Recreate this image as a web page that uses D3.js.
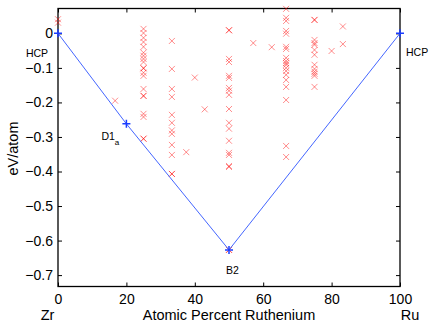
<!DOCTYPE html>
<html><head><meta charset="utf-8">
<script src="https://cdn.jsdelivr.net/npm/d3@7"></script>
<style>
html,body{margin:0;padding:0;background:#fff;}
text{font-family:"Liberation Sans",Arial,Helvetica,sans-serif;fill:#000;}
</style></head>
<body><svg id="chart" width="436" height="327"></svg>
<script>
// Structures: composition (atomic % Ru) and formation energy (eV/atom)
const structX = [
  0, 0,
  16.7,
  25,25,25,25,25,25,25,25,25,25,25,25,25,25,25,25,25,25,25,25,
  33.3,33.3,33.3,33.3,33.3,33.3,33.3,33.3,33.3,33.3,33.3,33.3,
  37.5, 40, 42.9,
  50,50,50,50,50,50,50,50,50,50,50,50,50,50,50,50,50,50,50,
  57.1, 62.5,
  66.7,66.7,66.7,66.7,66.7,66.7,66.7,66.7,66.7,66.7,66.7,66.7,66.7,66.7,66.7,66.7,66.7,66.7,66.7,
  75,75,75,75,75,75,75,75,75,75,75,75,75,
  80, 83.3, 83.3
];
const structE = [
  0.041, 0.031,
  -0.195,
  0.013,0.001,-0.013,-0.025,-0.039,-0.056,-0.065,-0.074,-0.083,-0.101,-0.101,-0.114,-0.123,-0.161,-0.181,-0.181,-0.233,-0.242,-0.305,-0.305,
  -0.022,-0.103,-0.161,-0.184,-0.236,-0.259,-0.281,-0.291,-0.323,-0.352,-0.407,-0.407,
  -0.344, -0.128, -0.220,
  0.009,0.009,-0.074,-0.083,-0.123,-0.129,-0.158,-0.166,-0.178,-0.219,-0.259,-0.276,-0.311,-0.346,-0.352,-0.384,-0.387,-0.627,-0.627,
  -0.028, -0.040,
  0.071,0.045,0.036,0.007,-0.001,-0.039,-0.045,-0.071,-0.080,-0.086,-0.091,-0.100,-0.109,-0.120,-0.135,-0.155,-0.193,-0.326,-0.358,
  0.039,0.039,-0.019,-0.028,-0.033,-0.048,-0.062,-0.091,-0.103,-0.111,-0.117,-0.123,-0.155,
  -0.051, 0.020, -0.031
];
// Convex hull (ground states)
const hullX = [0, 20, 50, 100];
const hullE = [0, -0.262, -0.627, 0];
const hullLabels = ["HCP", "D1", "B2", "HCP"];
const hullSub = ["", "a", "", ""];
// Ticks
const xTicks = [0, 20, 40, 60, 80, 100];
const yTicks = [0, -0.1, -0.2, -0.3, -0.4, -0.5, -0.6, -0.7];

const svg = d3.select("#chart");
const L = 58, R = 400, T = 8.5, B = 286.5;
const x = d3.scaleLinear().domain([0, 100]).range([L, R]);
const y = d3.scaleLinear().domain([0.072, -0.733]).range([T, B]);

// axes
const fmtY = d => d === 0 ? "0" : d3.format(".1f")(d);
const fmtX = d3.format("d");
const fs = "14px";
const ax = [
  [d3.axisBottom(x).tickValues(xTicks).tickSizeInner(-4).tickSizeOuter(0).tickPadding(8).tickFormat(fmtX), `translate(0,${B})`],
  [d3.axisTop(x).tickValues(xTicks).tickSizeInner(-4).tickSizeOuter(0).tickFormat(""), `translate(0,${T})`],
  [d3.axisLeft(y).tickValues(yTicks).tickSizeInner(-4).tickSizeOuter(0).tickPadding(5).tickFormat(fmtY), `translate(${L},0)`],
  [d3.axisRight(y).tickValues(yTicks).tickSizeInner(-4).tickSizeOuter(0).tickFormat(""), `translate(${R},0)`]
];
ax.forEach(([a, tr]) => {
  const g = svg.append("g").attr("transform", tr).call(a);
  g.select(".domain").remove();
  g.selectAll(".tick line").attr("stroke", "#000").attr("stroke-width", 1);
  g.selectAll(".tick text").attr("font-size", fs).attr("font-family", "Liberation Sans, Arial, sans-serif").attr("fill", "#000");
});
svg.append("rect").attr("x", L).attr("y", T).attr("width", R - L).attr("height", B - T)
  .attr("fill", "none").attr("stroke", "#000").attr("stroke-width", 1.3);

// structures
const pts = structX.map((v, i) => [v, structE[i]]);
svg.append("g").selectAll("path").data(pts).join("path")
  .attr("transform", d => `translate(${x(d[0])},${y(d[1])})`)
  .attr("d", "M-3,-3L3,3M-3,3L3,-3")
  .attr("stroke", "rgba(255,0,0,0.45)").attr("stroke-width", 1).attr("fill", "none");

// hull
const hull = hullX.map((v, i) => [v, hullE[i]]);
svg.append("path").datum(hull)
  .attr("d", d3.line().x(d => x(d[0])).y(d => y(d[1])))
  .attr("fill", "none").attr("stroke", "#4466ff").attr("stroke-width", 1);
svg.append("g").selectAll("path").data(hull).join("path")
  .attr("transform", d => `translate(${x(d[0])},${y(d[1])})`)
  .attr("d", "M-4,0L4,0M0,-4L0,4")
  .attr("stroke", "#1a3cff").attr("stroke-width", 1.5).attr("fill", "none");

// hull labels
const lblOff = [[-21, 24, "middle"], [-25, 16, "start"], [3.5, 24, "middle"], [6, 23, "start"]];
hull.forEach((d, i) => {
  const t = svg.append("text")
    .attr("x", x(d[0]) + lblOff[i][0]).attr("y", y(d[1]) + lblOff[i][1])
    .attr("text-anchor", lblOff[i][2]).attr("font-size", "10.5px").text(hullLabels[i]);
  if (hullSub[i]) t.append("tspan").attr("dy", 5.5).attr("font-size", "8px").text(hullSub[i]);
});

// axis labels
svg.append("text").attr("x", x(50)).attr("y", 320).attr("text-anchor", "middle")
  .attr("font-size", "14.5px").text("Atomic Percent Ruthenium");
svg.append("text").attr("x", x(0) - 10.5).attr("y", 320).attr("text-anchor", "middle")
  .attr("font-size", "14.5px").text("Zr");
svg.append("text").attr("x", x(100) + 10).attr("y", 320).attr("text-anchor", "middle")
  .attr("font-size", "14.5px").text("Ru");
svg.append("text").attr("transform", `translate(17.5,${(T + B) / 2 + 1}) rotate(-90)`)
  .attr("text-anchor", "middle").attr("font-size", "14.5px").text("eV/atom");
</script></body></html>
